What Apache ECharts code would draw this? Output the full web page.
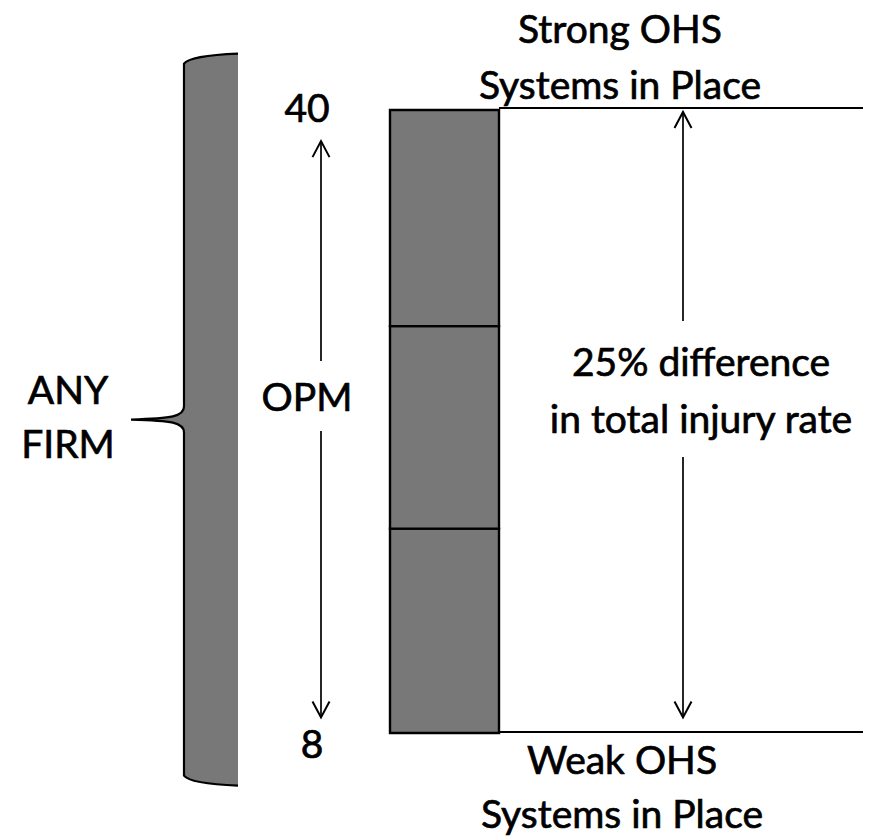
<!DOCTYPE html>
<html>
<head>
<meta charset="utf-8">
<script src="https://cdn.jsdelivr.net/npm/echarts@6/dist/echarts.min.js"></script>
<style>
html,body{margin:0;padding:0;background:#fff;}
#chart{width:881px;height:837px;}
</style>
</head>
<body>
<div id="chart"></div>
<script>
// ---- data (OPM scale values) ----
const segmentBounds = [8, 18.5, 28.9, 40];      // boundaries of the three stacked bar segments
const tickValues = [40, 8];                      // OPM end values
const tickLabels = ['40', '8'];
const levelLines = [40.1, 8.05];                 // strong / weak OHS reference levels
const opmArrow = [38.4, 8.8];                    // OPM double arrow (top tip, bottom tip)
const diffArrow = [39.9, 8.8];                   // injury-rate double arrow
const braceSpan = [42.9, 24.1, 5.3];             // brace top, tip, bottom
const topLabel = ['Strong OHS', 'Systems in Place'];
const bottomLabel = ['Weak OHS', 'Systems in Place'];
const diffLabel = ['25% difference', 'in total injury rate'];
const firmLabel = ['ANY', 'FIRM'];
const axisTitle = 'OPM';

// ---- layout (pixels / x positions) ----
const L = {
  braceL: 184, braceR: 238, braceTipX: 131,
  opmX: 321, diffX: 683,
  barX0: 390, barX1: 499,
  lineX0: 499, lineX1: 863
};
const FONT = 'Lato, "Open Sans", sans-serif';
const FS = 39;
const GRAY = '#787878';
const TEXT_STROKE = {stroke: '#000', lineWidth: 0.7};

const segData = [];
for (let i = 0; i < segmentBounds.length - 1; i++) segData.push([segmentBounds[i], segmentBounds[i + 1]]);

const chart = echarts.init(document.getElementById('chart'), null, {renderer: 'svg'});

function arrowItem(x, yt, yb) {
  const w = 8.5, h = 16;
  return {
    type: 'group',
    children: [
      {type: 'line', shape: {x1: x, y1: yt, x2: x, y2: yb}, style: {stroke: '#000', lineWidth: 1.7}},
      {type: 'polyline', shape: {points: [[x - w, yt + h], [x, yt], [x + w, yt + h]]}, style: {stroke: '#000', lineWidth: 2, fill: null}},
      {type: 'polyline', shape: {points: [[x - w, yb - h], [x, yb], [x + w, yb - h]]}, style: {stroke: '#000', lineWidth: 2, fill: null}}
    ]
  };
}

function txt(lines, x, y, extra) {
  return {
    type: 'text', x: x, y: y, z: 100,
    style: Object.assign({
      text: lines.join('\n'), font: FS + 'px ' + FONT, fill: '#000',
      align: 'center', verticalAlign: 'middle', lineHeight: 56
    }, TEXT_STROKE, extra || {})
  };
}

const option = {
  animation: false,
  backgroundColor: '#fff',
  grid: {left: 0, right: 0, top: 110, bottom: 104},
  xAxis: {type: 'value', min: 0, max: 881, show: false},
  yAxis: {type: 'value', min: 8, max: 40, show: false},
  series: [
    { // brace
      type: 'custom', data: [braceSpan], silent: true,
      renderItem: function (params, api) {
        const yT = api.coord([0, api.value(0)])[1];
        const yTip = api.coord([0, api.value(1)])[1];
        const yB = api.coord([0, api.value(2)])[1];
        const l = L.braceL, r = L.braceR, tx = L.braceTipX;
        const edge =
          'M' + r + ' ' + yT +
          ' Q' + (l + 6) + ' ' + (yT + 2) + ' ' + l + ' ' + (yT + 10) +
          ' L' + l + ' ' + (yTip - 13) +
          ' C' + l + ' ' + (yTip - 3) + ' ' + (l - 12) + ' ' + (yTip - 1) + ' ' + tx + ' ' + yTip +
          ' C' + (l - 12) + ' ' + (yTip + 1) + ' ' + l + ' ' + (yTip + 3) + ' ' + l + ' ' + (yTip + 13) +
          ' L' + l + ' ' + (yB - 10) +
          ' Q' + (l + 6) + ' ' + (yB - 2) + ' ' + r + ' ' + yB;
        return {
          type: 'group',
          children: [
            {type: 'path', shape: {pathData: edge + ' Z'}, style: {fill: GRAY, stroke: null}},
            {type: 'path', shape: {pathData: edge}, style: {fill: null, stroke: '#000', lineWidth: 2.2}}
          ]
        };
      }
    },
    { // bar segments
      type: 'custom', data: segData, silent: true,
      renderItem: function (params, api) {
        const p1 = api.coord([L.barX0, api.value(1)]);
        const p2 = api.coord([L.barX1, api.value(0)]);
        return {
          type: 'rect',
          shape: {x: p1[0], y: p1[1], width: p2[0] - p1[0], height: p2[1] - p1[1]},
          style: {fill: GRAY, stroke: '#000', lineWidth: 2.4}
        };
      }
    },
    { // level lines
      type: 'custom', data: levelLines.map(v => [v]), silent: true,
      renderItem: function (params, api) {
        const a = api.coord([L.lineX0, api.value(0)]);
        const b = api.coord([L.lineX1, api.value(0)]);
        return {type: 'line', shape: {x1: a[0], y1: a[1], x2: b[0], y2: b[1]}, style: {stroke: '#000', lineWidth: 2}};
      }
    },
    { // double arrows
      type: 'custom', data: [opmArrow, diffArrow], silent: true,
      renderItem: function (params, api) {
        const x = params.dataIndex === 0 ? L.opmX : L.diffX;
        const yt = api.coord([x, api.value(0)])[1];
        const yb = api.coord([x, api.value(1)])[1];
        return arrowItem(x, yt, yb);
      }
    },
    { // tick labels at OPM end values
      type: 'custom', data: tickValues.map(v => [v]), silent: true, z: 10,
      renderItem: function (params, api) {
        const p = api.coord([L.opmX, api.value(0)]);
        const dy = params.dataIndex === 0 ? -3 : 10;
        const dx = params.dataIndex === 0 ? -14 : -9;
        return {
          type: 'text', x: p[0] + dx, y: p[1] + dy,
          style: Object.assign({text: tickLabels[params.dataIndex], font: FS + 'px ' + FONT, fill: '#000', align: 'center', verticalAlign: 'middle'}, TEXT_STROKE)
        };
      }
    }
  ],
  graphic: [
    txt(topLabel, 620, 56),
    txt(bottomLabel, 622, 786, {lineHeight: 54}),
    txt(firmLabel, 68, 416, {lineHeight: 54}),
    txt([axisTitle], 307, 396, {backgroundColor: '#fff', padding: [13, 2, 13, 2], lineHeight: 44}),
    txt(diffLabel, 701, 389, {backgroundColor: '#fff', padding: [14, 2, 8, 2], lineHeight: 57})
  ]
};
chart.setOption(option);
</script>
</body>
</html>
